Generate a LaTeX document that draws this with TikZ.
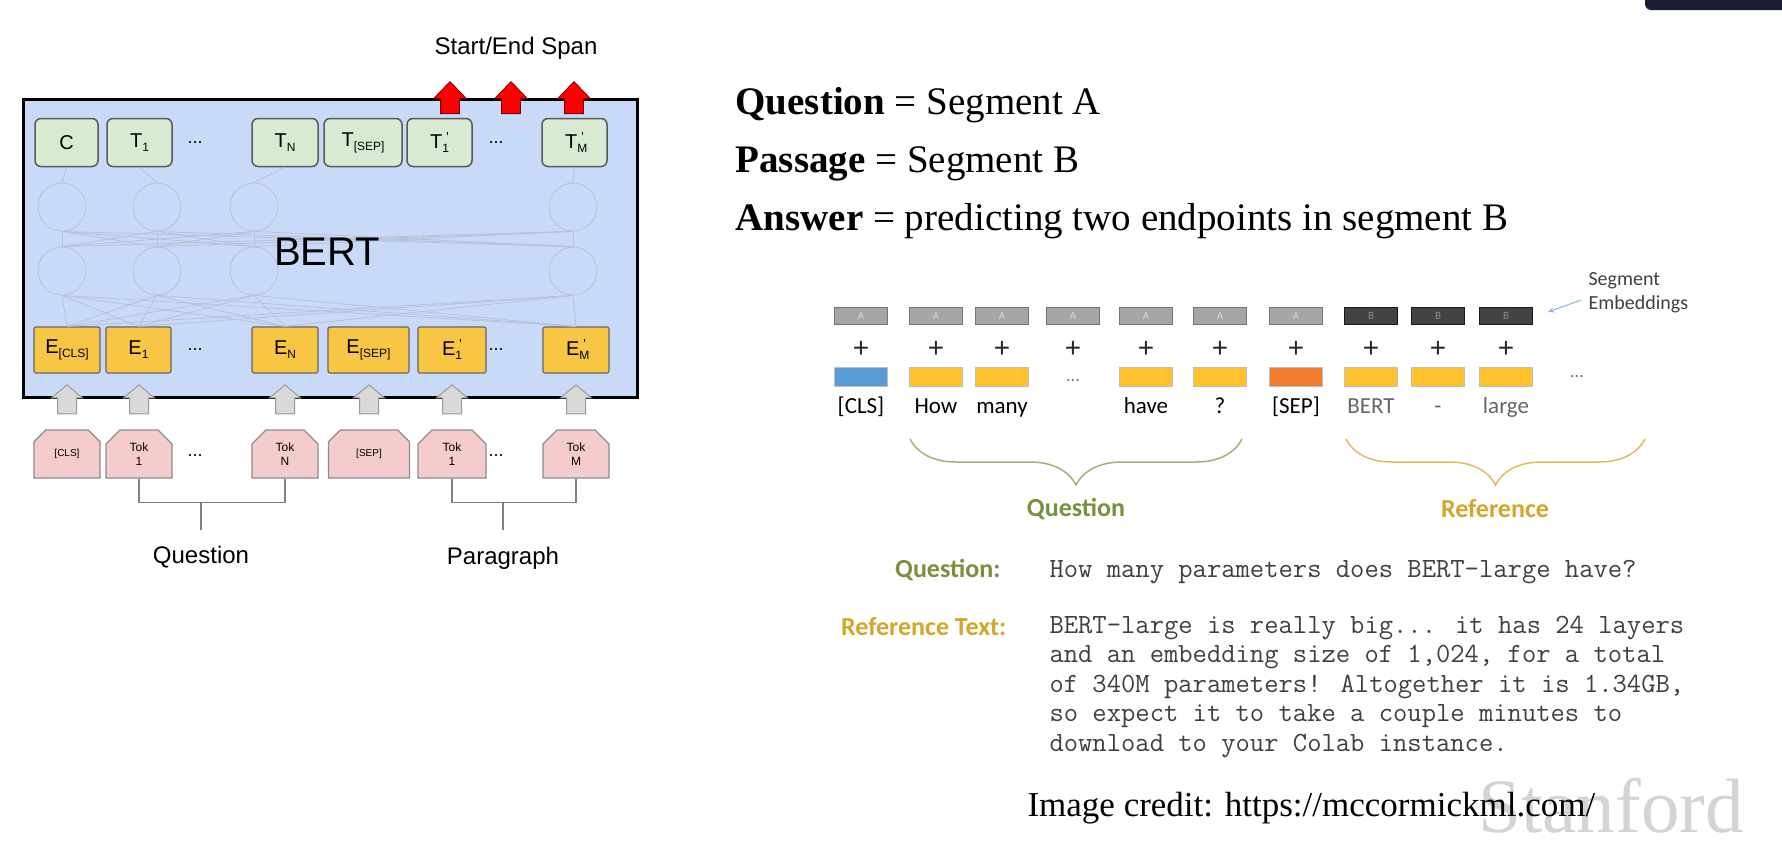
\documentclass[tikz,border=0pt]{standalone}
\usepackage{fontspec}
\setmainfont{Liberation Serif}
\newfontfamily\arialfont{Liberation Sans}
\newfontfamily\calibrifont{Carlito}
\usepackage{xcolor}
\usepackage{tikz}
\usetikzlibrary{
  shapes.misc,
  shapes.arrows,
  arrows.meta,
  decorations.pathreplacing
}

\newcommand{\pxsize}[1]{\fontsize{#1}{#1}\selectfont}
\newcommand{\tsub}[1]{\raisebox{-4pt}{\pxsize{12}#1}}
\newcommand{\tsubp}[1]{\rlap{\raisebox{-4pt}{\pxsize{12}#1}}\hspace{4pt}\raisebox{7pt}{\pxsize{13}'}\hspace{3pt}}

\definecolor{bertblue}{HTML}{C9DAF8}
\definecolor{tgreen}{HTML}{D9EAD3}
\definecolor{egold}{HTML}{F8C545}
\definecolor{tokpink}{HTML}{F4CCCC}
\definecolor{clsblue}{HTML}{5B9BD5}
\definecolor{tokgold}{HTML}{FFC12E}
\definecolor{seporange}{HTML}{EE7D31}
\definecolor{segfillA}{HTML}{A6A6A6}
\definecolor{segfillB}{HTML}{434343}
\definecolor{qgreen}{HTML}{76923C}
\definecolor{rgold}{HTML}{D4A62A}
\definecolor{faint}{HTML}{B6C2D6}
\definecolor{pointblue}{HTML}{8DB3E2}
\definecolor{darkcorner}{HTML}{1C1C34}

\begin{document}
\begin{tikzpicture}[
    x=1pt, y=-1pt,
    tbox/.style={draw=black!65, fill=tgreen, rounded corners=6pt,
        line width=1.5pt, minimum height=48pt, inner sep=0pt,
        font=\arialfont\pxsize{20}},
    ebox/.style={draw=black!60, fill=egold, rounded corners=2pt,
        line width=1.2pt, minimum height=46pt, inner sep=0pt,
        font=\arialfont\pxsize{20}},
    tokbox/.style={chamfered rectangle,
        chamfered rectangle corners={north west,north east},
        chamfered rectangle sep=7pt, draw=black!45, fill=tokpink,
        line width=1.2pt, minimum height=48pt, inner sep=0pt,
        align=center, font=\arialfont\fontsize{12}{14}\selectfont},
    unitcirc/.style={circle, draw=faint, line width=0.8pt,
        minimum size=48pt, inner sep=0pt},
    faintline/.style={draw=faint, line width=0.8pt},
    garrow/.style={single arrow, shape border rotate=90, draw=black!40,
        fill=black!15, line width=1pt, inner sep=9pt,
        minimum height=29pt, single arrow head extend=6pt,
        single arrow tip angle=100},
    rarrow/.style={single arrow, shape border rotate=90, draw=red!50!black,
        fill=red, line width=0.8pt, inner sep=9pt,
        minimum height=32pt, single arrow head extend=7pt,
        single arrow tip angle=88},
    bracket/.style={draw=black!50, line width=1.5pt},
    ldots/.style={font=\arialfont\pxsize{18}},
    segbox/.style={minimum width=53pt, minimum height=17pt, inner sep=0pt,
        font=\calibrifont\pxsize{11}},
    segA/.style={fill=segfillA, draw=black!55, text=white!85!black},
    segB/.style={fill=segfillB, draw=black!90, text=black!45},
    tokbar/.style={minimum width=53pt, minimum height=19pt, inner sep=0pt,
        draw=black!25},
    plussign/.style={font=\arialfont\pxsize{28}, text=black!85},
    word/.style={font=\calibrifont\pxsize{23}},
    qbrace/.style={draw=qgreen!70!white, line width=1.5pt,
        decorate, decoration={brace, mirror, amplitude=46pt}},
    rbrace/.style={draw=rgold!75!white, line width=1.5pt,
        decorate, decoration={brace, mirror, amplitude=46pt}},
    pointer/.style={draw=pointblue, line width=1pt,
        -{Stealth[length=6pt,width=5pt]}},
    monotext/.style={anchor=base west, font=\ttfamily\pxsize{27.8},
        text=black!75}
  ]
  % 画像の範囲
  \useasboundingbox (0,0) rectangle (1782,862);
  \fill[white] (0,0) rectangle (1782,862);
  \fill[darkcorner, rounded corners=6pt] (1645,-10) rectangle (1792,10);

  % 透かし文字
  \node[anchor=base west, font=\pxsize{77}, text=black!17] (stanford)
    at (1475,832) {Stanford};

  % BERTの箱
  \node[draw=black, line width=3pt, fill=bertblue, minimum width=614pt,
    minimum height=298pt, inner sep=0pt] (bert) at (330,248) {};

  % 内部の円
  \node[unitcirc] (r1a) at (62,207) {};
  \node[unitcirc] (r1b) at (157,207) {};
  \node[unitcirc] (r1c) at (254,207) {};
  \node[unitcirc] (r1d) at (573,207) {};
  \node[unitcirc] (r2a) at (62,271) {};
  \node[unitcirc] (r2b) at (157,271) {};
  \node[unitcirc] (r2c) at (254,271) {};
  \node[unitcirc] (r2d) at (573,271) {};

  % 上段の出力
  \node[tbox, minimum width=63pt] (tc) at (66.5,142.5) {C};
  \node[tbox, minimum width=65pt] (t1) at (139.5,142.5) {T\tsub{1}};
  \node[ldots] (tdotsa) at (195,142.5) {...};
  \node[tbox, minimum width=66pt] (tn) at (285,142.5) {T\tsub{N}};
  \node[tbox, minimum width=78pt] (tsep) at (363,142.5) {T\tsub{[SEP]}};
  \node[tbox, minimum width=65pt] (t1p) at (439.5,142.5) {T\tsubp{1}};
  \node[ldots] (tdotsb) at (496,142.5) {...};
  \node[tbox, minimum width=65pt] (tm) at (574.5,142.5) {T\tsubp{M}};

  % 埋め込み
  \node[ebox, minimum width=66pt] (ecls) at (67,350) {E\tsub{[CLS]}};
  \node[ebox, minimum width=65pt] (e1) at (138.5,350) {E\tsub{1}};
  \node[ldots] (edotsa) at (195,350) {...};
  \node[ebox, minimum width=66pt] (en) at (285,350) {E\tsub{N}};
  \node[ebox, minimum width=81pt] (esep) at (368.5,350) {E\tsub{[SEP]}};
  \node[ebox, minimum width=68pt] (e1p) at (452,350) {E\tsubp{1}};
  \node[ldots] (edotsb) at (496,350) {...};
  \node[ebox, minimum width=66pt] (em) at (576,350) {E\tsubp{M}};

  % 薄い結線
  \draw[faintline] (tc.south) -- (r1a.north);
  \draw[faintline] (t1.south) -- (r1b.north);
  \draw[faintline] (tn.south) -- (r1c.north);
  \draw[faintline] (tm.south) -- (r1d.north);
  \foreach \a in {a,b,c,d}{
    \foreach \b in {a,b,c,d}{
      \draw[faintline] (r1\a.south) -- (r2\b.north);
    }
    \foreach \e in {ecls,e1,en,em}{
      \draw[faintline] (r2\a.south) -- (\e.north);
    }
  }

  \node[font=\arialfont\pxsize{40}] (berttitle) at (327,252) {BERT};

  % 入力トークン
  \node[tokbox, minimum width=66pt, font=\arialfont\pxsize{10}] (tokcls)
    at (67,454) {[CLS]};
  \node[tokbox, minimum width=66pt] (tok1) at (139,454) {Tok\\1};
  \node[ldots] (kdotsa) at (195,456) {...};
  \node[tokbox, minimum width=66pt] (tokn) at (285,454) {Tok\\N};
  \node[tokbox, minimum width=81pt, font=\arialfont\pxsize{10}] (toksep)
    at (369,454) {[SEP]};
  \node[tokbox, minimum width=68pt] (tok1p) at (452,454) {Tok\\1};
  \node[ldots] (kdotsb) at (496,456) {...};
  \node[tokbox, minimum width=66pt] (tokm) at (576,454) {Tok\\M};

  % 灰色の矢印
  \node[garrow, anchor=tail] (gacls) at ([yshift=15pt]tokcls.north) {};
  \node[garrow, anchor=tail] (ga1) at ([yshift=15pt]tok1.north) {};
  \node[garrow, anchor=tail] (gan) at ([yshift=15pt]tokn.north) {};
  \node[garrow, anchor=tail] (gasep) at ([yshift=15pt]toksep.north) {};
  \node[garrow, anchor=tail] (ga1p) at ([yshift=15pt]tok1p.north) {};
  \node[garrow, anchor=tail] (gam) at ([yshift=15pt]tokm.north) {};

  % 赤い矢印
  \node[rarrow, anchor=tail] (spana) at (450,114) {};
  \node[rarrow, anchor=tail] (spanb) at (511,114) {};
  \node[rarrow, anchor=tail] (spanc) at (574,114) {};
  \node[font=\arialfont\pxsize{24}] (spanlabel) at (516,48) {Start/End Span};

  % 括弧
  \draw[bracket] (tok1.south) -- ++(0,24) -| (tokn.south);
  \coordinate (qstem) at (201,502);
  \draw[bracket] (qstem) -- ++(0,28);
  \node[font=\arialfont\pxsize{24}] (qpart) at (201,557) {Question};
  \draw[bracket] (tok1p.south) -- ++(0,24) -| (tokm.south);
  \coordinate (pstem) at (503,502);
  \draw[bracket] (pstem) -- ++(0,28);
  \node[font=\arialfont\pxsize{24}] (ppart) at (503,558) {Paragraph};

  % 見出し
  \node[anchor=base west, font=\pxsize{39}] (qline) at (732,114)
    {\textbf{Question} = Segment A};
  \node[anchor=base west, font=\pxsize{39}] (pline) at (732,172)
    {\textbf{Passage} = Segment B};
  \node[anchor=base west, font=\pxsize{39}] (aline) at (732,230)
    {\textbf{Answer} = predicting two endpoints in segment B};

  % セグメント埋め込みの行
  \foreach \x/\nm/\col/\sg/\wtxt/\wc in {
      861/cls/clsblue/A/{[CLS]}/black,
      936/how/tokgold/A/How/black,
      1002/many/tokgold/A/many/black,
      1146/have/tokgold/A/have/black,
      1220/q/tokgold/A/?/black,
      1296/sep/seporange/A/{[SEP]}/black,
      1371/bert/tokgold/B/BERT/black!60,
      1438/dash/tokgold/B/-/black!60,
      1506/large/tokgold/B/large/black!60}{
    \node[segbox, seg\sg] (seg\nm) at (\x,315.5) {\sg};
    \node[plussign] (plus\nm) at (\x,349) {+};
    \node[tokbar, fill=\col] (emb\nm) at (\x,376.5) {};
    \node[word, text=\wc, anchor=base] (wd\nm) at (\x,413) {\wtxt};
  }
  \node[segbox, segA] (segdots) at (1073,315.5) {A};
  \node[plussign] (plusdots) at (1073,349) {+};
  \node[font=\calibrifont\pxsize{18}, text=black!55] (embdots) at (1073,381) {...};
  \node[font=\calibrifont\pxsize{18}, text=black!55] (taildots) at (1577,377) {...};

  % セグメント埋め込みのラベル
  \node[anchor=west, align=left, font=\calibrifont\fontsize{20}{24}\selectfont,
    text=black!75] (seglabel) at (1585,293) {Segment\\Embeddings};
  \coordinate (segtip) at (1548,312);
  \draw[pointer] ([xshift=-4pt,yshift=-7pt]seglabel.west) -- (segtip);

  % 波括弧
  \coordinate (qbs) at (910,439);
  \coordinate (qbe) at (1242,439);
  \draw[qbrace] (qbs) -- (qbe);
  \node[font=\calibrifont\bfseries\pxsize{26}, text=qgreen] (qbrlabel)
    at (1076,509) {Question};
  \coordinate (rbs) at (1346,439);
  \coordinate (rbe) at (1645,439);
  \draw[rbrace] (rbs) -- (rbe);
  \node[font=\calibrifont\bfseries\pxsize{26}, text=rgold] (rbrlabel)
    at (1495,509) {Reference};

  % 質問と参照テキスト
  \node[anchor=base east, font=\calibrifont\bfseries\pxsize{26}, text=qgreen]
    (qhead) at (1004,577) {Question:};
  \node[monotext] (qtext) at (1046,577)
    {How many parameters does BERT-large have?};
  \node[anchor=base east, font=\calibrifont\bfseries\pxsize{26}, text=rgold]
    (rhead) at (1010,635) {Reference Text:};
  \foreach \i/\txt in {
      0/{BERT-large is really big... it has 24 layers},
      1/{and an embedding size of 1,024, for a total},
      2/{of 340M parameters! Altogether it is 1.34GB,},
      3/{so expect it to take a couple minutes to},
      4/{download to your Colab instance.}}{
    \node[monotext] (rtext\i) at (1046,633+29.5*\i) {\txt};
  }

  % クレジット
  \node[anchor=base west, font=\pxsize{35}] (credit) at (1024,816)
    {Image credit: https://mccormickml.com/};
\end{tikzpicture}
\end{document}
